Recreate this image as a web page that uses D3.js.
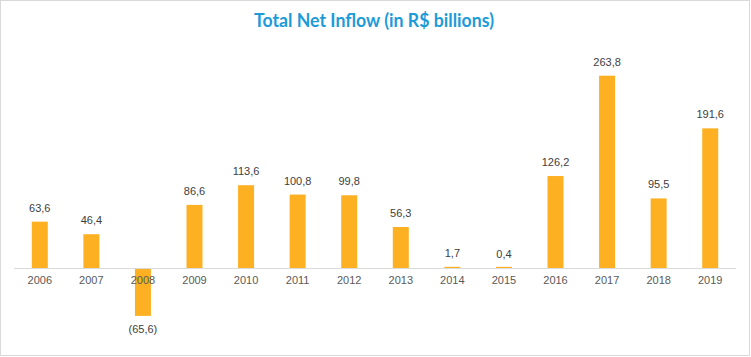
<!DOCTYPE html>
<html><head><meta charset="utf-8">
<script src="https://cdn.jsdelivr.net/npm/d3@7"></script>
<style>html,body{margin:0;padding:0;background:#fff;}svg{display:block;}</style>
</head><body>
<script>
const years = ["2006","2007","2008","2009","2010","2011","2012","2013","2014","2015","2016","2017","2018","2019"];
const values = [63.6,46.4,-65.6,86.6,113.6,100.8,99.8,56.3,1.7,0.4,126.2,263.8,95.5,191.6];
const labels = ["63,6","46,4","(65,6)","86,6","113,6","100,8","99,8","56,3","1,7","0,4","126,2","263,8","95,5","191,6"];
const title = "Total Net Inflow (in R$ billions)";

const W = 751, H = 357;
const svg = d3.select("body").append("svg").attr("width", W).attr("height", H);
svg.append("rect").attr("x",0.5).attr("y",0.5).attr("width",W-2).attr("height",H-2)
  .attr("fill","#fff").attr("stroke","#d9d9d9");

const x = d3.scaleBand().domain(years).range([14, 736]).paddingInner(0.69).paddingOuter(0.345);
const y = d3.scaleLinear().domain([-65.6, 263.8]).range([315.9, 75.7]);

svg.append("text").attr("x", 374).attr("y", 26.7).attr("text-anchor","middle")
  .attr("font-family","Lato, 'Open Sans', sans-serif").attr("font-weight","bold")
  .attr("font-size","18px").attr("fill","#1C9BD8")
  .attr("textLength",240).attr("lengthAdjust","spacingAndGlyphs").text(title);

const minH = 1.2;
svg.selectAll("rect.bar").data(values).join("rect").attr("class","bar")
  .attr("x",(d,i)=>x(years[i])).attr("width",x.bandwidth())
  .attr("y",d=> d>=0 ? y(0)-Math.max(minH, y(0)-y(d)) : y(0))
  .attr("height",d=>Math.max(minH, Math.abs(y(d)-y(0))))
  .attr("fill","#FDB022");

const axis = d3.axisBottom(x).tickSize(0).tickPadding(8);
const g = svg.append("g").attr("transform",`translate(0,${y(0)})`).call(axis);
g.select(".domain").attr("stroke","#d9d9d9").attr("d","M14,0.5H736");
g.selectAll("text").attr("font-family","'Liberation Sans', Arial, sans-serif").attr("font-size","11px").attr("fill","#595959");

svg.selectAll("text.val").data(values).join("text").attr("class","val")
  .attr("x",(d,i)=>x(years[i])+x.bandwidth()/2)
  .attr("y",d=> d>=0 ? y(d)-10 : y(d)+17)
  .attr("text-anchor","middle")
  .attr("font-family","'Liberation Sans', Arial, sans-serif").attr("font-size","11px").attr("fill","#404040")
  .text((d,i)=>labels[i]);
</script>
</body></html>
